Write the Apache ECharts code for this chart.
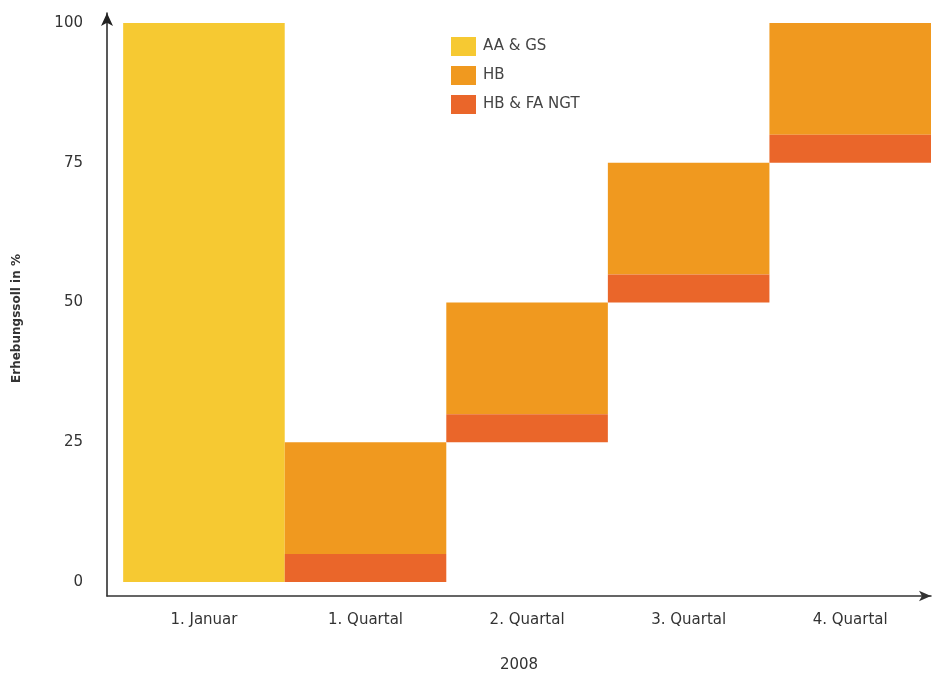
<!DOCTYPE html>
<html>
<head>
<meta charset="utf-8">
<script src="https://cdn.jsdelivr.net/npm/echarts@6/dist/echarts.min.js"></script>
<style>html,body{margin:0;padding:0;background:#fff}#c{width:932px;height:678px}</style>
</head>
<body>
<div id="c"></div>
<script>
// ---- data ----
const categories = ['1. Januar', '1. Quartal', '2. Quartal', '3. Quartal', '4. Quartal'];
const yTicks = [0, 25, 50, 75, 100];
// [low, high] per category (null = no segment)
const aaGs  = [[0, 100], null, null, null, null];
const hb    = [null, [5, 25], [30, 50], [55, 75], [80, 100]];
const hbNgt = [null, [0, 5], [25, 30], [50, 55], [75, 80]];
const seriesNames = ['AA & GS', 'HB', 'HB & FA NGT'];
const yAxisTitle = 'Erhebungssoll in %';
const xAxisTitle = '2008';

const colors = ['#F6C932', '#F0991F', '#EA662A'];

function toData(arr) {
  const out = [];
  arr.forEach((v, i) => { if (v) out.push([i, v[0], v[1]]); });
  return out;
}

function renderItem(params, api) {
  const x = api.value(0), lo = api.value(1), hi = api.value(2);
  const p0 = api.coord([x - 0.5, hi]);
  const p1 = api.coord([x + 0.5, lo]);
  return {
    type: 'rect',
    shape: { x: p0[0], y: p0[1], width: p1[0] - p0[0], height: p1[1] - p0[1] },
    style: { fill: api.visual('color') }
  };
}

const font = '"DejaVu Sans", sans-serif';
const chart = echarts.init(document.getElementById('c'));
chart.setOption({
  animation: false,
  color: colors,
  grid: { left: 107, right: 1, top: 13, bottom: 81, containLabel: false },
  legend: {
    orient: 'vertical',
    left: 446, top: 32,
    itemWidth: 25, itemHeight: 19, itemGap: 10,
    icon: 'rect',
    textStyle: { fontFamily: font, fontSize: 15, color: '#444', padding: [0, 0, 0, 2] },
    data: seriesNames
  },
  xAxis: {
    type: 'value',
    min: -0.6, max: 4.5,
    splitLine: { show: false },
    axisTick: { show: false },
    axisLine: { show: true, onZero: false, lineStyle: { color: '#333', width: 1.5 }, symbol: ['none', 'arrow'], symbolSize: [8, 12] },
    axisLabel: {
      customValues: categories.map((c, i) => i),
      formatter: v => categories[Math.round(v)] || '',
      fontFamily: font, fontSize: 15, color: '#333', margin: 17
    },
    name: xAxisTitle,
    nameLocation: 'middle',
    nameGap: 62,
    nameTextStyle: { fontFamily: font, fontSize: 15, color: '#333' }
  },
  yAxis: {
    type: 'value',
    min: -2.5, max: 101.8,
    splitLine: { show: false },
    axisTick: { show: false },
    axisLine: { show: true, onZero: false, lineStyle: { color: '#222', width: 1.5 }, symbol: ['none', 'arrow'], symbolSize: [9, 13] },
    axisLabel: {
      customValues: yTicks,
      formatter: v => String(v),
      fontFamily: font, fontSize: 15, color: '#333', margin: 24,
      padding: [14, 0, 0, 0]
    },
    name: yAxisTitle,
    nameLocation: 'middle',
    nameRotate: 90,
    nameGap: 84,
    nameTextStyle: { fontFamily: font, fontSize: 12, fontWeight: 'bold', color: '#333', padding: [0, 28, 0, 0] }
  },
  series: [
    { name: seriesNames[0], type: 'custom', renderItem, encode: { x: 0, y: [1, 2] }, data: toData(aaGs) },
    { name: seriesNames[1], type: 'custom', renderItem, encode: { x: 0, y: [1, 2] }, data: toData(hb) },
    { name: seriesNames[2], type: 'custom', renderItem, encode: { x: 0, y: [1, 2] }, data: toData(hbNgt) }
  ]
});
</script>
</body>
</html>
